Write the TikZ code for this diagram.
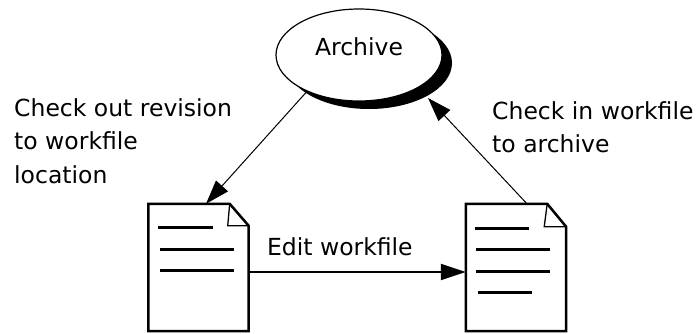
\documentclass[tikz,border=0pt]{standalone}
\usepackage{fontspec}
\setmainfont{DejaVu Sans}
\usetikzlibrary{shapes.geometric,shadows,arrows.meta}
\begin{document}
\begin{tikzpicture}[x=1pt,y=-1pt,
  every node/.style={font=\fontsize{23.5}{33.5}\selectfont},
  doc/.style={minimum width=100pt, minimum height=127pt, inner sep=0pt},
  docline/.style={line width=2.5pt},
  fold/.style={line width=1.3pt},
  txtline/.style={line width=2.8pt},
  flow/.style={line width=1pt, -{Triangle[length=24pt,width=16pt]}},
  edit/.style={line width=2pt, -{Triangle[length=25pt,width=16pt]}},
  lbl/.style={anchor=north west, align=left, inner sep=0pt}]
\useasboundingbox (0,0) rectangle (698,333);
\node[ellipse, draw, line width=1.2pt, fill=white, minimum width=166pt, minimum height=92pt, inner sep=0pt, text height=18pt, text depth=18pt, drop shadow={shadow xshift=10pt, shadow yshift=-8pt, fill=black, opacity=1}] (archive) at (359,55){Archive};
\node[doc] (wfl) at (198.5,267.5){};
\node[doc] (wfr) at (516,267.5){};
\draw[docline] (wfl.north west) -- ([xshift=-19pt]wfl.north east) -- ([yshift=-22pt]wfl.north east) -- (wfl.south east) -- (wfl.south west) -- cycle;
\draw[fold] ([xshift=-19pt]wfl.north east) -- ([xshift=-21pt,yshift=-22pt]wfl.north east) -- ([yshift=-22pt]wfl.north east);
\draw[txtline] ([shift={(10pt,-24pt)}]wfl.north west) -- ([shift={(65pt,-24pt)}]wfl.north west);
\draw[txtline] ([shift={(12pt,-46pt)}]wfl.north west) -- ([shift={(86pt,-46pt)}]wfl.north west);
\draw[txtline] ([shift={(12pt,-67pt)}]wfl.north west) -- ([shift={(86pt,-67pt)}]wfl.north west);
\draw[docline] (wfr.north west) -- ([xshift=-19pt]wfr.north east) -- ([yshift=-23pt]wfr.north east) -- (wfr.south east) -- (wfr.south west) -- cycle;
\draw[fold] ([xshift=-19pt]wfr.north east) -- ([xshift=-22pt,yshift=-23pt]wfr.north east) -- ([yshift=-23pt]wfr.north east);
\draw[txtline] ([shift={(9pt,-25pt)}]wfr.north west) -- ([shift={(63pt,-25pt)}]wfr.north west);
\draw[txtline] ([shift={(10pt,-46pt)}]wfr.north west) -- ([shift={(84pt,-46pt)}]wfr.north west);
\draw[txtline] ([shift={(10pt,-68pt)}]wfr.north west) -- ([shift={(84pt,-68pt)}]wfr.north west);
\draw[txtline] ([shift={(12pt,-89pt)}]wfr.north west) -- ([shift={(66pt,-89pt)}]wfr.north west);
\draw[flow] (archive.215) -- ([xshift=7.5pt]wfl.north);
\draw[flow] ([xshift=11pt]wfr.north) -- ([shift={(69pt,-43pt)}]archive.center);
\draw[edit] ([yshift=-4.5pt]wfl.east) -- node[above=12pt, pos=.42] (lbedit) {Edit workfile} ([yshift=-4.5pt]wfr.west);
\node[lbl] (lbout) at (14,98){Check out revision\\to workfile\\location};
\node[lbl] (lbin) at (492,101){Check in workfile\\to archive};
\end{tikzpicture}
\end{document}
